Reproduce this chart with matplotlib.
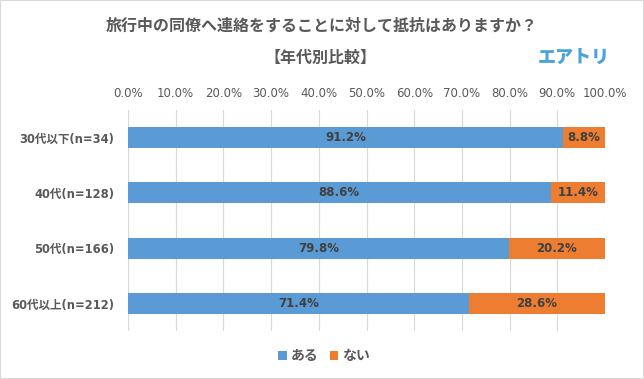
import matplotlib
matplotlib.use("Agg")
import matplotlib.pyplot as plt
from matplotlib.patches import Rectangle

mixed = ['DejaVu Sans', 'Noto Sans CJK JP']
cjk = ['Noto Sans CJK JP', 'DejaVu Sans']
plt.rcParams['font.family'] = mixed

categories = ["30代以下(n=34)", "40代(n=128)", "50代(n=166)", "60代以上(n=212)"]
aru = [91.2, 88.6, 79.8, 71.4]
nai = [8.8, 11.4, 20.2, 28.6]
series_names = ["ある", "ない"]
xticks = [0, 10, 20, 30, 40, 50, 60, 70, 80, 90, 100]

blue = "#5b9bd5"
orange = "#ed7d31"
txt = "#595959"

fig = plt.figure(figsize=(6.44, 3.79), dpi=100)
ax = fig.add_axes([128/644, 1-331/379, 477/644, 221/379])

y = list(range(len(categories)))
h = 0.38
ax.barh(y, aru, height=h, color=blue, label=series_names[0], zorder=3)
ax.barh(y, nai, left=aru, height=h, color=orange, label=series_names[1], zorder=3)

for i in y:
    ax.text(aru[i]/2, i, f"{aru[i]:.1f}%", ha='center', va='center',
            fontsize=8.5, fontweight='bold', color="#404040", zorder=4)
    ax.text(aru[i] + nai[i]/2, i, f"{nai[i]:.1f}%", ha='center', va='center',
            fontsize=8.5, fontweight='bold', color="#404040", zorder=4)

ax.set_xlim(0, 100)
ax.set_ylim(3.5, -0.5)
ax.set_xticks(xticks)
ax.set_xticklabels([f"{v:.1f}%" for v in xticks], color=txt, fontsize=8.5)
ax.xaxis.tick_top()
ax.tick_params(axis='x', length=0, pad=7)
ax.set_yticks(y)
ax.set_yticklabels(categories, color=txt, fontsize=8.3, fontweight='bold')
ax.tick_params(axis='y', length=0, pad=10)
ax.grid(axis='x', color="#d9d9d9", linewidth=0.8, zorder=0)
for s in ax.spines.values():
    s.set_visible(False)
ax.axvline(0, color="#d9d9d9", linewidth=0.8, zorder=2)

fig.text(0.5, 1-26/379, "旅行中の同僚へ連絡をすることに対して抵抗はありますか？",
         ha='center', va='center', fontsize=11.5, fontweight='bold', color=txt,
         family=cjk)
fig.text(320/644, 1-58/379, "【年代別比較】", ha='center', va='center',
         fontsize=11.5, fontweight='bold', color=txt, family=cjk)
fig.text(574/644, 1-57/379, "エアトリ", ha='center', va='center',
         fontsize=13, fontweight='heavy', color="#4ba3dc", family=cjk)

leg = ax.legend(loc='center', bbox_to_anchor=(324/644, 1-356/379),
                bbox_transform=fig.transFigure, ncol=2, frameon=False,
                prop={'family': cjk, 'size': 10, 'weight': 'bold'},
                handlelength=0.6, handleheight=0.6,
                handletextpad=0.3, columnspacing=0.8)
for t in leg.get_texts():
    t.set_color(txt)

fig.patches.append(Rectangle((0, 0), 1, 1, transform=fig.transFigure,
                             fill=False, edgecolor="#d9d9d9", linewidth=1.5))

fig.savefig("out.png", dpi=100)
